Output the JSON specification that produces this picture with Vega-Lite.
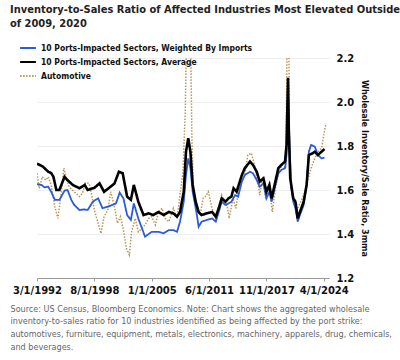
{
  "$schema": "https://vega.github.io/schema/vega-lite/v6.json",
  "width": 292,
  "height": 220,
  "padding": {"left": 10, "top": 4, "right": 6, "bottom": 4},
  "background": "white",
  "title": {
    "text": ["Inventory-to-Sales Ratio of Affected Industries Most Elevated Outside", "of 2009, 2020"],
    "anchor": "start",
    "frame": "bounds",
    "font": "DejaVu Sans Condensed",
    "fontWeight": "bold",
    "fontSize": 11,
    "lineHeight": 14,
    "color": "#222222",
    "offset": 10
  },
  "config": {
    "view": {"stroke": null},
    "axis": {"labelFont": "DejaVu Sans", "labelFontWeight": "bold", "labelFontSize": 10, "labelColor": "#111111"}
  },
  "data": {
    "values": [
      {"d":"1992-03-01","s":"a","v":1.72},{"d":"1992-11-01","s":"a","v":1.706},{"d":"1993-06-01","s":"a","v":1.683},{"d":"1993-10-01","s":"a","v":1.677},{"d":"1994-01-01","s":"a","v":1.66},{"d":"1994-05-01","s":"a","v":1.60},{"d":"1994-09-01","s":"a","v":1.60},{"d":"1995-04-01","s":"a","v":1.66},{"d":"1995-08-01","s":"a","v":1.645},{"d":"1996-03-01","s":"a","v":1.623},{"d":"1996-12-01","s":"a","v":1.608},{"d":"1997-07-01","s":"a","v":1.623},{"d":"1997-11-01","s":"a","v":1.60},{"d":"1998-08-01","s":"a","v":1.61},{"d":"1999-03-01","s":"a","v":1.63},{"d":"1999-09-01","s":"a","v":1.592},{"d":"2000-04-01","s":"a","v":1.61},{"d":"2000-11-01","s":"a","v":1.63},{"d":"2001-05-01","s":"a","v":1.683},{"d":"2001-10-01","s":"a","v":1.676},{"d":"2002-04-01","s":"a","v":1.57},{"d":"2002-09-01","s":"a","v":1.555},{"d":"2003-01-01","s":"a","v":1.623},{"d":"2003-07-01","s":"a","v":1.547},{"d":"2004-02-01","s":"a","v":1.486},{"d":"2004-09-01","s":"a","v":1.494},{"d":"2005-03-01","s":"a","v":1.486},{"d":"2005-10-01","s":"a","v":1.50},{"d":"2006-05-01","s":"a","v":1.486},{"d":"2006-12-01","s":"a","v":1.50},{"d":"2007-06-01","s":"a","v":1.494},{"d":"2007-11-01","s":"a","v":1.479},{"d":"2008-03-01","s":"a","v":1.50},{"d":"2008-08-01","s":"a","v":1.592},{"d":"2008-11-01","s":"a","v":1.774},{"d":"2009-02-01","s":"a","v":1.835},{"d":"2009-05-01","s":"a","v":1.774},{"d":"2009-08-01","s":"a","v":1.623},{"d":"2009-12-01","s":"a","v":1.547},{"d":"2010-04-01","s":"a","v":1.50},{"d":"2010-08-01","s":"a","v":1.486},{"d":"2011-03-01","s":"a","v":1.494},{"d":"2011-10-01","s":"a","v":1.50},{"d":"2012-03-01","s":"a","v":1.479},{"d":"2012-07-01","s":"a","v":1.517},{"d":"2012-11-01","s":"a","v":1.562},{"d":"2013-04-01","s":"a","v":1.547},{"d":"2013-08-01","s":"a","v":1.562},{"d":"2013-12-01","s":"a","v":1.57},{"d":"2014-03-01","s":"a","v":1.608},{"d":"2014-07-01","s":"a","v":1.592},{"d":"2015-02-01","s":"a","v":1.668},{"d":"2015-06-01","s":"a","v":1.699},{"d":"2016-01-01","s":"a","v":1.729},{"d":"2016-05-01","s":"a","v":1.714},{"d":"2016-10-01","s":"a","v":1.683},{"d":"2017-02-01","s":"a","v":1.638},{"d":"2017-07-01","s":"a","v":1.653},{"d":"2017-11-01","s":"a","v":1.592},{"d":"2018-03-01","s":"a","v":1.623},{"d":"2018-06-01","s":"a","v":1.562},{"d":"2018-10-01","s":"a","v":1.623},{"d":"2019-03-01","s":"a","v":1.699},{"d":"2019-07-01","s":"a","v":1.714},{"d":"2019-12-01","s":"a","v":1.729},{"d":"2020-02-01","s":"a","v":1.805},{"d":"2020-04-01","s":"a","v":2.11},{"d":"2020-05-01","s":"a","v":1.88},{"d":"2020-07-01","s":"a","v":1.653},{"d":"2020-11-01","s":"a","v":1.562},{"d":"2021-02-01","s":"a","v":1.547},{"d":"2021-05-01","s":"a","v":1.471},{"d":"2021-08-01","s":"a","v":1.50},{"d":"2022-01-01","s":"a","v":1.547},{"d":"2022-05-01","s":"a","v":1.623},{"d":"2022-08-01","s":"a","v":1.759},{"d":"2023-01-01","s":"a","v":1.767},{"d":"2023-04-01","s":"a","v":1.774},{"d":"2023-08-01","s":"a","v":1.759},{"d":"2024-01-01","s":"a","v":1.774},{"d":"2024-05-01","s":"a","v":1.786},
      {"d":"1992-03-01","s":"w","v":1.627},{"d":"1992-09-01","s":"w","v":1.623},{"d":"1993-01-01","s":"w","v":1.612},{"d":"1993-06-01","s":"w","v":1.615},{"d":"1993-10-01","s":"w","v":1.592},{"d":"1994-03-01","s":"w","v":1.555},{"d":"1994-09-01","s":"w","v":1.555},{"d":"1995-04-01","s":"w","v":1.597},{"d":"1995-08-01","s":"w","v":1.60},{"d":"1996-01-01","s":"w","v":1.555},{"d":"1996-05-01","s":"w","v":1.532},{"d":"1996-12-01","s":"w","v":1.509},{"d":"1997-07-01","s":"w","v":1.512},{"d":"1997-11-01","s":"w","v":1.509},{"d":"1998-06-01","s":"w","v":1.547},{"d":"1999-01-01","s":"w","v":1.562},{"d":"1999-07-01","s":"w","v":1.517},{"d":"2000-02-01","s":"w","v":1.524},{"d":"2000-08-01","s":"w","v":1.532},{"d":"2001-01-01","s":"w","v":1.539},{"d":"2001-06-01","s":"w","v":1.588},{"d":"2001-11-01","s":"w","v":1.562},{"d":"2002-04-01","s":"w","v":1.486},{"d":"2002-09-01","s":"w","v":1.464},{"d":"2003-01-01","s":"w","v":1.539},{"d":"2003-07-01","s":"w","v":1.471},{"d":"2004-04-01","s":"w","v":1.388},{"d":"2005-01-01","s":"w","v":1.41},{"d":"2005-10-01","s":"w","v":1.41},{"d":"2006-05-01","s":"w","v":1.403},{"d":"2006-12-01","s":"w","v":1.418},{"d":"2007-06-01","s":"w","v":1.418},{"d":"2007-11-01","s":"w","v":1.41},{"d":"2008-03-01","s":"w","v":1.456},{"d":"2008-08-01","s":"w","v":1.547},{"d":"2008-11-01","s":"w","v":1.668},{"d":"2009-02-01","s":"w","v":1.744},{"d":"2009-05-01","s":"w","v":1.699},{"d":"2009-08-01","s":"w","v":1.592},{"d":"2010-01-01","s":"w","v":1.50},{"d":"2010-04-01","s":"w","v":1.433},{"d":"2010-08-01","s":"w","v":1.456},{"d":"2011-03-01","s":"w","v":1.464},{"d":"2011-10-01","s":"w","v":1.471},{"d":"2012-03-01","s":"w","v":1.456},{"d":"2012-07-01","s":"w","v":1.50},{"d":"2012-11-01","s":"w","v":1.547},{"d":"2013-04-01","s":"w","v":1.532},{"d":"2013-08-01","s":"w","v":1.539},{"d":"2013-12-01","s":"w","v":1.547},{"d":"2014-05-01","s":"w","v":1.577},{"d":"2014-09-01","s":"w","v":1.57},{"d":"2015-02-01","s":"w","v":1.638},{"d":"2015-06-01","s":"w","v":1.668},{"d":"2016-01-01","s":"w","v":1.683},{"d":"2016-05-01","s":"w","v":1.676},{"d":"2016-10-01","s":"w","v":1.645},{"d":"2017-02-01","s":"w","v":1.615},{"d":"2017-07-01","s":"w","v":1.63},{"d":"2017-11-01","s":"w","v":1.562},{"d":"2018-03-01","s":"w","v":1.592},{"d":"2018-06-01","s":"w","v":1.547},{"d":"2018-10-01","s":"w","v":1.608},{"d":"2019-03-01","s":"w","v":1.676},{"d":"2019-07-01","s":"w","v":1.691},{"d":"2019-12-01","s":"w","v":1.699},{"d":"2020-02-01","s":"w","v":1.759},{"d":"2020-04-01","s":"w","v":2.05},{"d":"2020-06-01","s":"w","v":1.805},{"d":"2020-08-01","s":"w","v":1.623},{"d":"2020-11-01","s":"w","v":1.547},{"d":"2021-02-01","s":"w","v":1.517},{"d":"2021-05-01","s":"w","v":1.456},{"d":"2021-08-01","s":"w","v":1.486},{"d":"2022-01-01","s":"w","v":1.532},{"d":"2022-05-01","s":"w","v":1.623},{"d":"2022-08-01","s":"w","v":1.774},{"d":"2022-11-01","s":"w","v":1.805},{"d":"2023-04-01","s":"w","v":1.797},{"d":"2023-08-01","s":"w","v":1.759},{"d":"2024-01-01","s":"w","v":1.744},{"d":"2024-05-01","s":"w","v":1.747},
      {"d":"1992-03-01","s":"auto","v":1.676},{"d":"1992-06-01","s":"auto","v":1.608},{"d":"1992-10-01","s":"auto","v":1.66},{"d":"1993-03-01","s":"auto","v":1.645},{"d":"1993-06-01","s":"auto","v":1.66},{"d":"1993-10-01","s":"auto","v":1.623},{"d":"1994-03-01","s":"auto","v":1.524},{"d":"1994-07-01","s":"auto","v":1.471},{"d":"1994-11-01","s":"auto","v":1.57},{"d":"1995-03-01","s":"auto","v":1.699},{"d":"1995-06-01","s":"auto","v":1.66},{"d":"1995-10-01","s":"auto","v":1.615},{"d":"1996-05-01","s":"auto","v":1.592},{"d":"1996-12-01","s":"auto","v":1.57},{"d":"1997-04-01","s":"auto","v":1.585},{"d":"1997-08-01","s":"auto","v":1.633},{"d":"1998-01-01","s":"auto","v":1.63},{"d":"1998-05-01","s":"auto","v":1.57},{"d":"1998-08-01","s":"auto","v":1.509},{"d":"1999-01-01","s":"auto","v":1.449},{"d":"1999-05-01","s":"auto","v":1.403},{"d":"1999-09-01","s":"auto","v":1.479},{"d":"2000-02-01","s":"auto","v":1.509},{"d":"2000-06-01","s":"auto","v":1.592},{"d":"2000-11-01","s":"auto","v":1.524},{"d":"2001-03-01","s":"auto","v":1.449},{"d":"2001-07-01","s":"auto","v":1.479},{"d":"2001-11-01","s":"auto","v":1.418},{"d":"2002-03-01","s":"auto","v":1.335},{"d":"2002-07-01","s":"auto","v":1.305},{"d":"2002-10-01","s":"auto","v":1.41},{"d":"2003-03-01","s":"auto","v":1.471},{"d":"2003-07-01","s":"auto","v":1.41},{"d":"2003-12-01","s":"auto","v":1.426},{"d":"2004-04-01","s":"auto","v":1.441},{"d":"2004-09-01","s":"auto","v":1.471},{"d":"2005-01-01","s":"auto","v":1.479},{"d":"2005-06-01","s":"auto","v":1.441},{"d":"2005-10-01","s":"auto","v":1.50},{"d":"2006-03-01","s":"auto","v":1.517},{"d":"2006-07-01","s":"auto","v":1.471},{"d":"2006-12-01","s":"auto","v":1.456},{"d":"2007-06-01","s":"auto","v":1.517},{"d":"2007-11-01","s":"auto","v":1.471},{"d":"2008-03-01","s":"auto","v":1.577},{"d":"2008-07-01","s":"auto","v":1.683},{"d":"2008-10-01","s":"auto","v":1.956},{"d":"2008-12-01","s":"auto","v":2.35},{"d":"2009-05-01","s":"auto","v":2.35},{"d":"2009-07-01","s":"auto","v":1.835},{"d":"2009-09-01","s":"auto","v":1.592},{"d":"2010-02-01","s":"auto","v":1.517},{"d":"2010-06-01","s":"auto","v":1.486},{"d":"2010-10-01","s":"auto","v":1.562},{"d":"2011-01-01","s":"auto","v":1.57},{"d":"2011-05-01","s":"auto","v":1.592},{"d":"2011-10-01","s":"auto","v":1.517},{"d":"2012-03-01","s":"auto","v":1.471},{"d":"2012-07-01","s":"auto","v":1.517},{"d":"2012-11-01","s":"auto","v":1.577},{"d":"2013-04-01","s":"auto","v":1.532},{"d":"2013-06-01","s":"auto","v":1.532},{"d":"2013-09-01","s":"auto","v":1.471},{"d":"2014-02-01","s":"auto","v":1.562},{"d":"2014-06-01","s":"auto","v":1.517},{"d":"2014-11-01","s":"auto","v":1.623},{"d":"2015-06-01","s":"auto","v":1.668},{"d":"2015-10-01","s":"auto","v":1.759},{"d":"2016-03-01","s":"auto","v":1.767},{"d":"2016-07-01","s":"auto","v":1.714},{"d":"2016-12-01","s":"auto","v":1.623},{"d":"2017-02-01","s":"auto","v":1.577},{"d":"2017-06-01","s":"auto","v":1.66},{"d":"2017-10-01","s":"auto","v":1.562},{"d":"2018-03-01","s":"auto","v":1.608},{"d":"2018-07-01","s":"auto","v":1.50},{"d":"2018-11-01","s":"auto","v":1.608},{"d":"2019-04-01","s":"auto","v":1.683},{"d":"2019-08-01","s":"auto","v":1.714},{"d":"2020-01-01","s":"auto","v":1.699},{"d":"2020-03-01","s":"auto","v":2.35},{"d":"2020-05-01","s":"auto","v":2.35},{"d":"2020-06-01","s":"auto","v":1.805},{"d":"2020-09-01","s":"auto","v":1.592},{"d":"2021-01-01","s":"auto","v":1.532},{"d":"2021-03-01","s":"auto","v":1.50},{"d":"2021-07-01","s":"auto","v":1.532},{"d":"2021-11-01","s":"auto","v":1.562},{"d":"2022-03-01","s":"auto","v":1.592},{"d":"2022-07-01","s":"auto","v":1.653},{"d":"2022-11-01","s":"auto","v":1.699},{"d":"2023-04-01","s":"auto","v":1.744},{"d":"2023-08-01","s":"auto","v":1.774},{"d":"2024-01-01","s":"auto","v":1.79},{"d":"2024-04-01","s":"auto","v":1.85},{"d":"2024-07-01","s":"auto","v":1.903}
    ]
  },
  "encoding": {
    "x": {
      "field": "d", "type": "temporal",
      "scale": {"type": "utc", "domain": [{"year": 1992, "month": 3, "date": 1, "utc": true}, {"year": 2024, "month": 11, "date": 1, "utc": true}]},
      "axis": {
        "values": [
          {"year": 1992, "month": 3, "date": 1, "utc": true},
          {"year": 1998, "month": 8, "date": 1, "utc": true},
          {"year": 2005, "month": 1, "date": 1, "utc": true},
          {"year": 2011, "month": 6, "date": 1, "utc": true},
          {"year": 2017, "month": 11, "date": 1, "utc": true},
          {"year": 2024, "month": 4, "date": 1, "utc": true}
        ],
        "format": "%-m/%-d/%Y",
        "grid": false,
        "domainColor": "#999999",
        "tickColor": "#999999",
        "tickSize": 3,
        "labelPadding": 4,
        "labelFlush": false,
        "title": ["Source: US Census, Bloomberg Economics. Note: Chart shows the aggregated wholesale", "inventory-to-sales ratio for 10 industries identified as being affected by the port strike:", "automotives, furniture, equipment, metals, electronics, machinery, apparels, drug, chemicals,", "and beverages."],
        "titleAnchor": "start",
        "titleAlign": "left",
        "titleBaseline": "top",
        "titleX": -27,
        "titleY": 26,
        "titleFont": "DejaVu Sans Condensed",
        "titleFontWeight": "normal",
        "titleFontSize": 9,
        "titleLineHeight": 12.7,
        "titleColor": "#666666"
      }
    },
    "y": {
      "field": "v", "type": "quantitative",
      "scale": {"domain": [1.2, 2.2], "nice": false, "zero": false},
      "axis": {
        "orient": "right",
        "values": [1.2, 1.4, 1.6, 1.8, 2.0, 2.2],
        "format": ".1f",
        "domain": false,
        "ticks": false,
        "labelPadding": 7,
        "labelFontSize": 10,
        "gridColor": "#eeeeee",
        "title": "Wholesale Inventory/Sale Ratio, 3mma",
        "titleAngle": 90,
        "titleFont": "DejaVu Sans Condensed",
        "titleFontWeight": "bold",
        "titleFontSize": 9,
        "titleColor": "#111111",
        "titlePadding": 6
      }
    },
    "color": {
      "field": "s", "type": "nominal",
      "scale": {"domain": ["w", "a", "auto"], "range": ["#2b5bd6", "#000000", "#b8965a"]},
      "legend": {
        "title": null,
        "orient": "none",
        "legendX": -18,
        "legendY": -19,
        "padding": 0,
        "symbolType": "stroke",
        "symbolSize": 250,
        "symbolStrokeWidth": 2,
        "labelFont": "DejaVu Sans Condensed",
        "labelFontWeight": "bold",
        "labelFontSize": 8.5,
        "labelColor": "#111111",
        "labelLimit": 300,
        "rowPadding": 0,
        "labelExpr": "datum.label == 'w' ? '10 Ports-Impacted Sectors, Weighted By Imports' : datum.label == 'a' ? '10 Ports-Impacted Sectors, Average' : 'Automotive'"
      }
    },
    "strokeDash": {
      "field": "s", "type": "nominal",
      "scale": {"domain": ["w", "a", "auto"], "range": [[1, 0], [1, 0], [1.5, 1.5]]},
      "legend": {
        "title": null,
        "orient": "none",
        "legendX": -18,
        "legendY": -19,
        "padding": 0,
        "symbolType": "stroke",
        "symbolSize": 250,
        "symbolStrokeWidth": 2,
        "labelFont": "DejaVu Sans Condensed",
        "labelFontWeight": "bold",
        "labelFontSize": 8.5,
        "labelColor": "#111111",
        "labelLimit": 300,
        "rowPadding": 0,
        "labelExpr": "datum.label == 'w' ? '10 Ports-Impacted Sectors, Weighted By Imports' : datum.label == 'a' ? '10 Ports-Impacted Sectors, Average' : 'Automotive'"
      }
    }
  },
  "layer": [
    {"transform": [{"filter": "datum.s == 'auto'"}], "mark": {"type": "line", "strokeWidth": 1.5, "clip": true}},
    {"transform": [{"filter": "datum.s == 'w'"}], "mark": {"type": "line", "strokeWidth": 1.8, "clip": true}},
    {"transform": [{"filter": "datum.s == 'a'"}], "mark": {"type": "line", "strokeWidth": 2.6, "clip": true}}
  ]
}
